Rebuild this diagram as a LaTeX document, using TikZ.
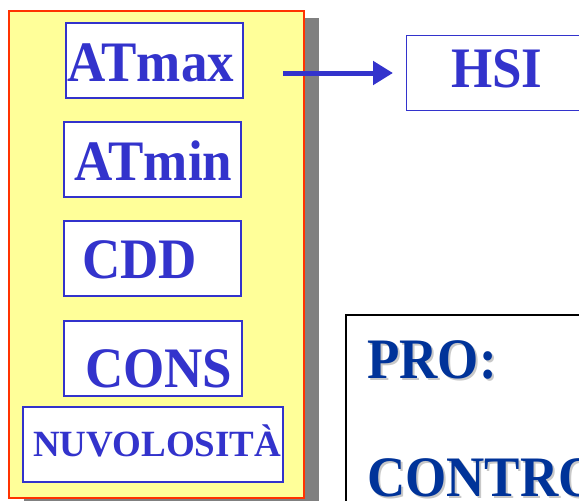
\documentclass[tikz,border=0pt]{standalone}
\usepackage{fontspec}
\usetikzlibrary{arrows.meta}
\setmainfont{Liberation Serif}
\definecolor{itemblue}{HTML}{3333CC}
\definecolor{panelyellow}{HTML}{FFFF99}
\definecolor{panelborder}{HTML}{FF3300}
\definecolor{shadowgray}{HTML}{808080}
\definecolor{navy}{HTML}{003399}
\definecolor{softgray}{HTML}{C8C8C8}
\newcommand{\bigbold}[1]{\fontsize{53}{60}\selectfont\bfseries\scalebox{1}[1.08]{#1}}
\tikzset{
  itembox/.style={draw=itemblue, line width=1.4pt, fill=white},
  itemtext/.style={anchor=base west, inner sep=0pt, text=itemblue},
  protext/.style={anchor=base west, inner sep=0pt, text=navy},
  proshadow/.style={anchor=base west, inner sep=0pt, text=softgray},
}
\begin{document}
\begin{tikzpicture}[x=1pt, y=-1pt]
\useasboundingbox (0,0) rectangle (579,501);
\clip (0,0) rectangle (579,501);

% panel with drop shadow
\fill[shadowgray] (24,18) rectangle (319,513);
\draw[panelborder, line width=1.4pt, fill=panelyellow] (9,11) rectangle (304,498);

% item boxes
\draw[itembox] (66,23) rectangle (243,98);
\draw[itembox] (64,122) rectangle (241,197);
\draw[itembox] (64,221) rectangle (241,296);
\draw[itembox] (64,321) rectangle (242,396);
\draw[itembox] (23,407) rectangle (283,482);

\node[itemtext] (atmax) at (67,81) {\bigbold{ATmax}};
\node[itemtext] (atmin) at (74,180) {\bigbold{ATmin}};
\node[itemtext] (cdd) at (82,278) {\bigbold{CDD}};
\node[itemtext] (cons) at (85,387) {\bigbold{CONS}};
\node[itemtext] (nuv) at (33,456) {\fontsize{37}{44}\selectfont\bfseries NUVOLOSITÀ};

% HSI box
\node[draw=itemblue, line width=1.4pt, fill=white, minimum width=200pt, minimum height=75pt, anchor=north west, inner sep=0pt] (hsibox) at (406,35) {};
\node[itemtext] (hsi) at (451,87) {\bigbold{HSI}};

% arrow towards HSI
\coordinate (arrowstart) at (283,73);
\coordinate (arrowend) at (hsibox.west |- arrowstart);
\draw[itemblue, line width=5pt, shorten >=13pt, -{Triangle[width=23pt, length=20pt]}] (arrowstart) -- (arrowend);

% pro / contro box
\node[draw=black, line width=2pt, fill=white, minimum width=260pt, minimum height=220pt, anchor=north west, inner sep=0pt] (probox) at (345,314) {};
\node[proshadow] (proshadow) at (369,380) {\bigbold{PRO:}};
\node[protext] (pro) at (367,378) {\bigbold{PRO:}};
\node[proshadow] (controshadow) at (369,498) {\bigbold{CONTRO}};
\node[protext] (contro) at (367,496) {\bigbold{CONTRO}};
\end{tikzpicture}
\end{document}
